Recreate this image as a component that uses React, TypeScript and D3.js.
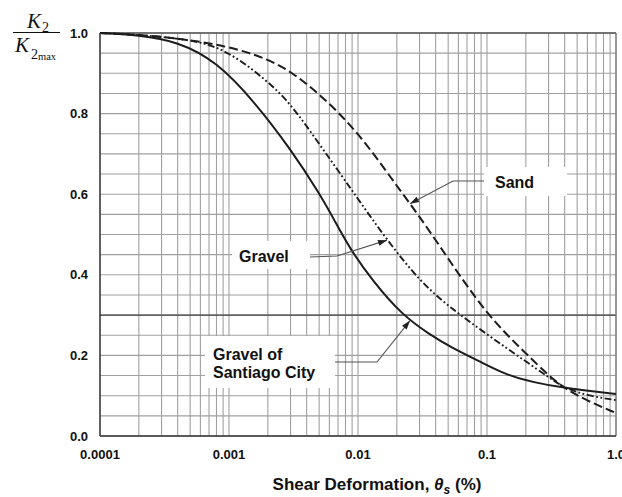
import React from "react";
import * as d3 from "d3";

const W = 622;
const H = 497;
const PLOT = { left: 100, right: 616, top: 33, bottom: 436 };

// Axis ticks
const xTickValues = [0.0001, 0.001, 0.01, 0.1, 1.0];
const xTickLabels = ["0.0001", "0.001", "0.01", "0.1", "1.0"];
const yTickValues = [0, 0.2, 0.4, 0.6, 0.8, 1.0];
const yTickLabels = ["0.0", "0.2", "0.4", "0.6", "0.8", "1.0"];

// Sand (dashed)
const sandStrain = [0.0001, 0.0003, 0.001, 0.002, 0.003, 0.005, 0.01, 0.02, 0.03, 0.05, 0.1, 0.2, 0.3, 0.4, 0.6, 1.0];
const sandK = [1.0, 0.993, 0.968, 0.935, 0.905, 0.85, 0.755, 0.62, 0.545, 0.44, 0.3, 0.205, 0.15, 0.118, 0.087, 0.057];

// Gravel (dash-dot-dot)
const gravelStrain = [0.0001, 0.0005, 0.001, 0.002, 0.003, 0.005, 0.0077, 0.01, 0.0168, 0.03, 0.05, 0.1, 0.2, 0.3, 0.4, 0.6, 1.0];
const gravelK = [1.0, 0.988, 0.955, 0.88, 0.825, 0.725, 0.64, 0.588, 0.486, 0.385, 0.322, 0.252, 0.185, 0.146, 0.119, 0.1, 0.089];

// Gravel of Santiago City (solid)
const santiagoStrain = [0.0001, 0.0002, 0.0004, 0.0008, 0.0016, 0.003, 0.005, 0.0065, 0.0087, 0.013, 0.022, 0.036, 0.052, 0.093, 0.143, 0.23, 0.39, 1.0];
const santiagoK = [1.0, 0.995, 0.979, 0.93, 0.827, 0.712, 0.603, 0.538, 0.463, 0.385, 0.3, 0.252, 0.221, 0.181, 0.151, 0.133, 0.119, 0.104];

// Callout anchors (strain where each arrow touches its curve)
const sandArrowStrain = 0.0253;
const gravelArrowStrain = 0.0168;
const santiagoArrowStrain = 0.0253;

const x = d3.scaleLog().domain([0.0001, 1]).range([PLOT.left, PLOT.right]);
const y = d3.scaleLinear().domain([0, 1]).range([PLOT.bottom, PLOT.top]);

function kAt(strains: number[], ks: number[], s: number): number {
  const ls = Math.log10(s);
  for (let i = 0; i < strains.length - 1; i++) {
    const a = Math.log10(strains[i]);
    const b = Math.log10(strains[i + 1]);
    if (ls >= a && ls <= b) {
      const t = (ls - a) / (b - a);
      return ks[i] + t * (ks[i + 1] - ks[i]);
    }
  }
  return ks[ks.length - 1];
}

const lineGen = d3
  .line<[number, number]>()
  .x((d) => x(d[0]))
  .y((d) => y(d[1]))
  .curve(d3.curveBasis);

const zipPts = (s: number[], k: number[]) => s.map((v, i) => [v, k[i]] as [number, number]);

// Minor log grid: 1..9 within each decade
const vGrid: number[] = [];
for (let e = -4; e < 0; e++) {
  for (let m = 1; m <= 9; m++) vGrid.push(m * Math.pow(10, e));
}
vGrid.push(1);
const hGrid = d3.range(0, 1.0001, 0.05);

const boldSans = "Arial, 'Liberation Sans', Helvetica, sans-serif";
const serif = "'Liberation Serif', 'Times New Roman', serif";
const curveColor = "#1c1c1c";
const leaderColor = "#555";

function Arrow({ fx, fy, tx, ty }: { fx: number; fy: number; tx: number; ty: number }) {
  const ang = Math.atan2(ty - fy, tx - fx);
  const L = 9;
  const Wd = 3;
  const bx = tx - L * Math.cos(ang);
  const by = ty - L * Math.sin(ang);
  const px = -Math.sin(ang) * Wd;
  const py = Math.cos(ang) * Wd;
  return (
    <polygon
      points={`${tx},${ty} ${bx + px},${by + py} ${bx - px},${by - py}`}
      fill="#222"
    />
  );
}

export default function App() {
  const sandTip = { x: x(sandArrowStrain), y: y(kAt(sandStrain, sandK, sandArrowStrain)) };
  const gravelTip = { x: x(gravelArrowStrain), y: y(kAt(gravelStrain, gravelK, gravelArrowStrain)) };
  const santTip = { x: x(santiagoArrowStrain), y: y(kAt(santiagoStrain, santiagoK, santiagoArrowStrain)) };

  return (
    <div style={{ position: "absolute", left: 0, top: 0, width: W, height: H, overflow: "hidden" }}>
      <svg width={W} height={H} style={{ display: "block", background: "#fff" }}>
        {/* grid */}
        <g>
          {vGrid.map((v, i) => (
            <line key={"v" + i} x1={x(v)} x2={x(v)} y1={PLOT.top} y2={PLOT.bottom} stroke="#a0a0a0" strokeWidth={1.1} />
          ))}
          {hGrid.map((v, i) => (
            <line key={"h" + i} x1={PLOT.left} x2={PLOT.right} y1={y(v)} y2={y(v)} stroke="#a0a0a0" strokeWidth={1.1} />
          ))}
          <line x1={PLOT.left} x2={PLOT.right} y1={y(0.3)} y2={y(0.3)} stroke="#444" strokeWidth={1.3} />
          <line x1={PLOT.left} x2={PLOT.right} y1={PLOT.top} y2={PLOT.top} stroke="#555" strokeWidth={1.3} />
          <line x1={PLOT.right} x2={PLOT.right} y1={PLOT.top} y2={PLOT.bottom} stroke="#777" strokeWidth={1.2} />
          <line x1={PLOT.left} x2={PLOT.left} y1={PLOT.top} y2={PLOT.bottom} stroke="#333" strokeWidth={1.4} />
          <line x1={PLOT.left} x2={PLOT.right} y1={PLOT.bottom} y2={PLOT.bottom} stroke="#333" strokeWidth={1.4} />
        </g>

        {/* label backgrounds */}
        <rect x={484} y={167} width={83} height={29} fill="#fff" />
        <rect x={232} y={241} width={78} height={28} fill="#fff" />
        <rect x={205} y={336} width={130} height={52} fill="#fff" />

        {/* curves */}
        <path d={lineGen(zipPts(santiagoStrain, santiagoK)) || ""} fill="none" stroke={curveColor} strokeWidth={2} />
        <path
          d={lineGen(zipPts(gravelStrain, gravelK)) || ""}
          fill="none"
          stroke={curveColor}
          strokeWidth={1.9}
          strokeDasharray="7 2.5 1.8 2.5 1.8 2.5"
        />
        <path
          d={lineGen(zipPts(sandStrain, sandK)) || ""}
          fill="none"
          stroke={curveColor}
          strokeWidth={2}
          strokeDasharray="9 4"
        />

        {/* callouts */}
        <g fill="none" stroke={leaderColor} strokeWidth={1.1}>
          <polyline points={`484,181 453,181 ${sandTip.x},${sandTip.y}`} />
          <polyline points={`310,257 337,256 ${gravelTip.x},${gravelTip.y}`} />
          <polyline points={`335,362 377,362 ${santTip.x},${santTip.y}`} />
        </g>
        <Arrow fx={453} fy={181} tx={sandTip.x} ty={sandTip.y} />
        <Arrow fx={337} fy={256} tx={gravelTip.x} ty={gravelTip.y} />
        <Arrow fx={377} fy={362} tx={santTip.x} ty={santTip.y} />

        <g fontFamily={boldSans} fontWeight="bold" fontSize={16} fill="#111">
          <text x={495} y={188}>Sand</text>
          <text x={239} y={262}>Gravel</text>
          <text x={213} y={360}>Gravel of</text>
          <text x={213} y={378}>Santiago City</text>
        </g>

        {/* y tick labels */}
        <g fontFamily={boldSans} fontWeight="bold" fontSize={13} fill="#111" textAnchor="end">
          {yTickValues.map((v, i) => (
            <text key={i} x={88} y={y(v)} dy="0.36em">
              {yTickLabels[i]}
            </text>
          ))}
        </g>
        {/* x tick labels */}
        <g fontFamily={boldSans} fontWeight="bold" fontSize={13} fill="#111" textAnchor="middle">
          {xTickValues.map((v, i) => (
            <text key={i} x={x(v)} y={459}>
              {xTickLabels[i]}
            </text>
          ))}
        </g>

        {/* x axis title */}
        <text x={377} y={490} textAnchor="middle" fontFamily={boldSans} fontWeight="bold" fontSize={17} fill="#111">
          Shear Deformation,{" "}
          <tspan fontStyle="italic">θ</tspan>
          <tspan fontStyle="italic" fontSize={12} dy={4}>s</tspan>
          <tspan dy={-4}> (%)</tspan>
        </text>

        {/* y axis title: K2 / K2max */}
        <g fontFamily={serif} fill="#111">
          <text x={27} y={28} fontSize={21} fontStyle="italic">K</text>
          <text x={42} y={32} fontSize={14}>2</text>
          <line x1={13} x2={60} y1={32.5} y2={32.5} stroke="#111" strokeWidth={1.2} />
          <text x={15} y={52} fontSize={21} fontStyle="italic">K</text>
          <text x={31} y={59} fontSize={14}>2</text>
          <text x={38} y={60} fontSize={10.5}>max</text>
        </g>
      </svg>
    </div>
  );
}
